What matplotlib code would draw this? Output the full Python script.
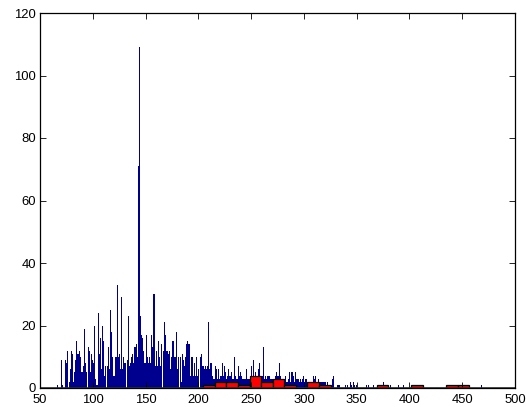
import numpy as np
import matplotlib
matplotlib.use("Agg")
import matplotlib.pyplot as plt

# blue histogram: unit-width bins, counts for values 66..330
blue_start = 66
blue_counts = [
    0, 1, 0, 0, 9, 1, 0, 0, 9, 8, 12, 0, 2, 6, 12, 11, 2, 5, 9, 15,      # 66-85
    11, 12, 10, 5, 5, 7, 19, 8, 5, 0, 13, 12, 5, 11, 9, 8, 20, 3, 1, 24,  # 86-105
    11, 16, 6, 20, 15, 4, 7, 0, 7, 13, 6, 25, 18, 10, 4, 4, 10, 33, 10, 11,  # 106-125
    6, 29, 6, 10, 8, 8, 0, 9, 23, 7, 8, 10, 11, 8, 13, 14, 10, 71, 109, 23,  # 126-145
    17, 16, 12, 8, 8, 17, 10, 8, 10, 8, 17, 13, 30, 7, 12, 7, 15, 10, 7, 14,  # 146-165
    0, 12, 21, 17, 12, 12, 11, 12, 6, 10, 15, 10, 10, 18, 6, 10, 0, 10, 2, 11,  # 166-185
    9, 7, 10, 14, 15, 14, 14, 4, 10, 4, 8, 4, 10, 4, 6, 0, 10, 11, 7, 7,  # 186-205
    6, 7, 6, 7, 21, 6, 8, 4, 3, 3, 7, 6, 3, 6, 3, 4, 4, 8, 4, 7,  # 206-225
    5, 3, 4, 6, 4, 5, 3, 3, 10, 4, 3, 3, 7, 4, 5, 4, 3, 3, 3, 3,  # 226-245
    6, 3, 3, 3, 7, 4, 9, 4, 5, 4, 3, 6, 8, 4, 4, 4, 13, 3, 4, 3,  # 246-265
    4, 4, 3, 3, 3, 2, 3, 4, 5, 4, 4, 8, 4, 3, 2, 2, 3, 4, 2, 3,  # 266-285
    5, 2, 5, 5, 4, 2, 5, 3, 3, 3, 2, 3, 2, 3, 4, 2, 3, 1, 2, 1,  # 286-305
    2, 1, 2, 4, 3, 4, 2, 1, 3, 1, 2, 2, 2, 2, 2, 1, 2, 1, 1, 0,  # 306-325
    0, 3, 4, 0, 0,  # 326-330
]
# sparse tail of the blue histogram
tail_x = [332, 333, 334, 339, 341, 344, 345, 347, 348, 350, 359, 361, 366, 375, 382, 390, 394, 468]
tail_counts = [1, 1, 1, 1, 1, 2, 1, 2, 1, 1, 1, 1, 1, 2, 1, 1, 1, 1]

# red histogram: 23 equal bins between red_lo and red_hi
red_lo, red_hi = 204.7, 456.7
red_counts = [1, 2, 2, 1, 4, 2, 3, 1, 0, 2, 1, 0, 0, 0, 0, 1, 0, 0, 1, 0, 0, 1, 1]

blue_x = np.concatenate([blue_start + np.arange(len(blue_counts)), tail_x])
blue_y = np.concatenate([blue_counts, tail_counts])

red_edges = np.linspace(red_lo, red_hi, len(red_counts) + 1)
red_w = red_edges[1] - red_edges[0]

plt.rcParams["font.family"] = ["Liberation Sans", "DejaVu Sans"]

fig = plt.figure(figsize=(5.26, 4.07), dpi=100)
ax = fig.add_axes([40 / 526, 19 / 407, 475 / 526, 375 / 407])

ax.bar(blue_x, blue_y, width=1.0, color="#00008f", linewidth=0, align="center")
ax.bar(red_edges[:-1], red_counts, width=red_w, align="edge",
       color="#ff0000", edgecolor="black", linewidth=0.9)
ax.axhline(0, color="#333333", linewidth=1.2)

ax.set_xlim(50, 500)
ax.set_ylim(0, 120)
ax.set_xticks(np.arange(50, 501, 50))
ax.set_yticks(np.arange(0, 121, 20))
ax.tick_params(direction="in", top=True, right=True, length=4, width=0.6,
               labelsize=9.4)
ax.tick_params(axis="x", pad=4.5)
ax.tick_params(axis="y", pad=3)
for s in ax.spines.values():
    s.set_linewidth(0.9)

fig.savefig("out.png", dpi=100)
